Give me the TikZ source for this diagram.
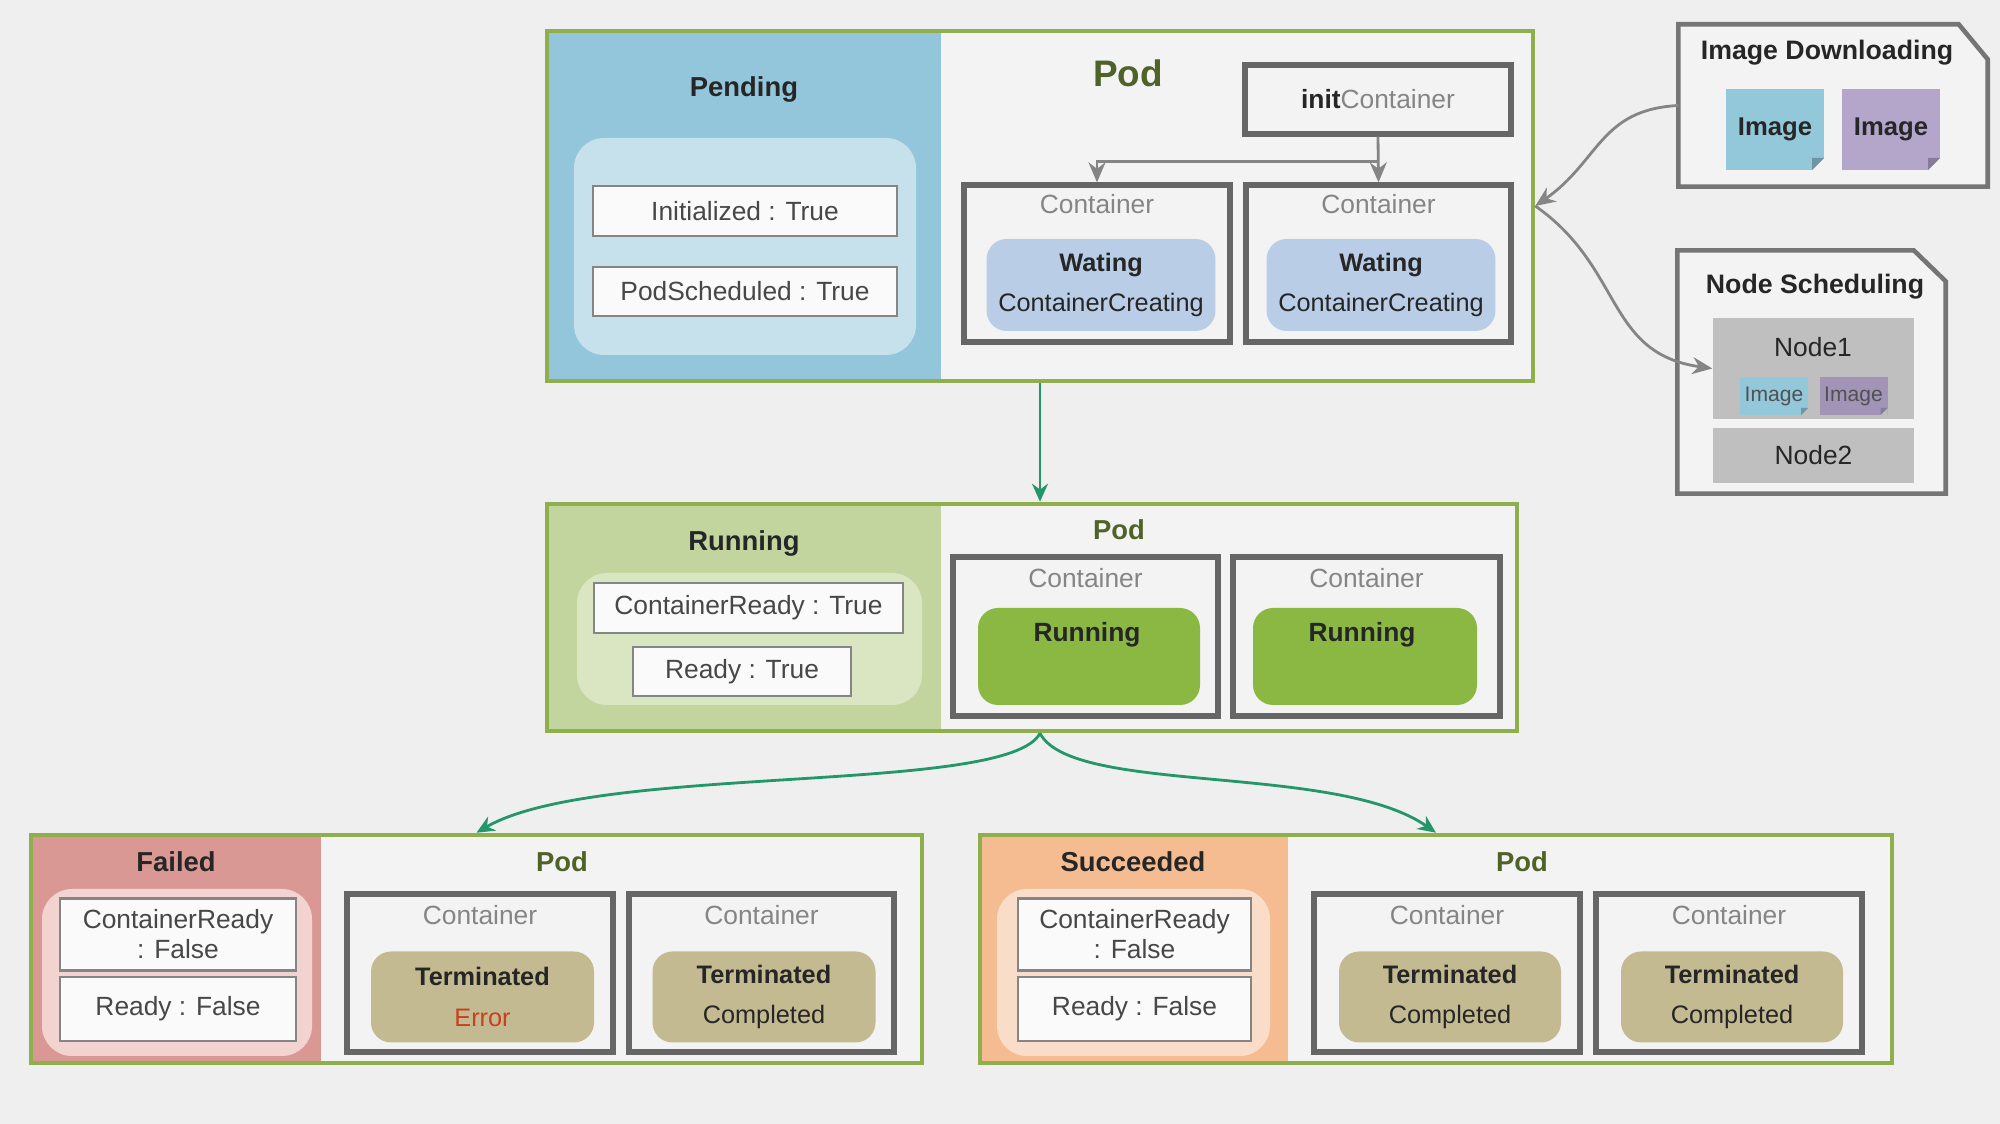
\documentclass[tikz,border=0pt]{standalone}
\usepackage{fontspec}
\setmainfont{Liberation Sans}
\usetikzlibrary{arrows.meta}

\definecolor{bggray}{HTML}{EFEFEF}
\definecolor{podbg}{HTML}{F3F3F3}
\definecolor{framegreen}{HTML}{8FAE4C}
\definecolor{podolive}{HTML}{4F6228}
\definecolor{pendblue}{HTML}{93C6DA}
\definecolor{pendlight}{HTML}{C6E1EB}
\definecolor{waitblue}{HTML}{B9CDE6}
\definecolor{rungreen}{HTML}{C3D59E}
\definecolor{runlight}{HTML}{DAE5C2}
\definecolor{runfill}{HTML}{8AB843}
\definecolor{failred}{HTML}{DA9894}
\definecolor{faillight}{HTML}{F3D3D0}
\definecolor{succorange}{HTML}{F6BC91}
\definecolor{succlight}{HTML}{FADDC8}
\definecolor{termtan}{HTML}{C4BA91}
\definecolor{imgblue}{HTML}{93C7DA}
\definecolor{imgpurple}{HTML}{B4A5CB}
\definecolor{nodegray}{HTML}{BFBFBF}
\definecolor{boxgray}{HTML}{666666}
\definecolor{linegray}{HTML}{858585}
\definecolor{flowgreen}{HTML}{23976A}
\definecolor{errred}{HTML}{C8401E}
\definecolor{textdark}{HTML}{262626}

\begin{document}
\begin{tikzpicture}[x=1cm, y=-1cm, font=\fontsize{7.5}{9}\selectfont, text=textdark,
    phaseframe/.style={draw=framegreen, line width=1.3pt},
    phase/.style={font=\fontsize{7.8}{9}\selectfont\bfseries},
    podlbl/.style={font=\fontsize{7.8}{9}\selectfont\bfseries, text=podolive},
    condpanel/.style={rounded corners=0.3cm},
    cond/.style={draw=linegray, line width=0.8pt, fill=white!60!podbg, align=center, text=textdark!85, font=\fontsize{7.5}{8.5}\selectfont},
    container/.style={draw=boxgray, line width=1.5pt},
    ctitle/.style={text=linegray},
    cstate/.style={rounded corners=0.2cm, align=center, font=\fontsize{7.2}{11.5}\selectfont},
    notebox/.style={draw=boxgray!90, line width=1.3pt, fill=podbg},
    imgnote/.style={outer sep=0pt, font=\fontsize{7.3}{9}\selectfont\bfseries},
    flow/.style={draw=flowgreen, line width=0.8pt, -{Stealth[length=0.18cm,width=0.16cm]}},
    link/.style={draw=linegray, line width=0.8pt, -{Stealth[length=0.2cm,width=0.17cm]}}]

    \fill[bggray] (0,0) rectangle (20,11.24);
    \useasboundingbox (0,0) rectangle (20,11.24);

    % Pending
    \fill[podbg] (5.47,0.31) rectangle (15.33,3.81);
    \fill[pendblue] (5.47,0.31) rectangle (9.41,3.81);
    \node[phaseframe, minimum width=9.86cm, minimum height=3.50cm] (pendframe) at (10.40,2.06) {};
    \node[phase] (pendlbl) at (7.44,0.89) {Pending};
    \node[condpanel, fill=pendlight, minimum width=3.42cm, minimum height=2.17cm] (pendcond) at (7.45,2.465) {};
    \node[cond, minimum width=3.04cm, minimum height=0.50cm] (initok) at (7.45,2.11) {Initialized : True};
    \node[cond, minimum width=3.04cm, minimum height=0.49cm] (schedok) at (7.45,2.915) {PodScheduled : True};
    \node[podlbl, font=\fontsize{10.5}{12}\selectfont\bfseries] (pendpod) at (11.28,0.73) {Pod};
    \node[container, minimum width=2.66cm, minimum height=0.69cm] (initc) at (13.78,0.995) {\textbf{init}\textcolor{linegray}{Container}};
    \node[container, minimum width=2.66cm, minimum height=1.57cm] (pendc1) at (10.97,2.635) {};
    \node[container, minimum width=2.65cm, minimum height=1.57cm] (pendc2) at (13.785,2.635) {};
    \node[ctitle] (pendt1) at (10.97,2.04) {Container};
    \node[ctitle] (pendt2) at (13.785,2.04) {Container};
    \node[cstate, fill=waitblue, minimum width=2.22cm, minimum height=0.92cm] (wait1) at (11.01,2.85) {\textbf{Wating}\\ContainerCreating};
    \node[cstate, fill=waitblue, minimum width=2.22cm, minimum height=0.92cm] (wait2) at (13.81,2.85) {\textbf{Wating}\\ContainerCreating};

    % Image Downloading
    \node[minimum width=3.08cm, minimum height=1.61cm] (imgdl) at (18.33,1.055) {};
    \draw[notebox] (imgdl.south west) -- (imgdl.north west) -- ([xshift=-0.29cm]imgdl.north east)
        -- ([yshift=-0.35cm]imgdl.north east) -- (imgdl.south east) -- cycle;
    \node[phase, font=\fontsize{7.6}{9}\selectfont\bfseries] (imgdllbl) at (18.27,0.53) {Image Downloading};
    \node[imgnote, fill=imgblue, minimum width=0.98cm, minimum height=0.81cm] (img1) at (17.75,1.295) {Image};
    \node[imgnote, fill=imgpurple, minimum width=0.98cm, minimum height=0.81cm] (img2) at (18.91,1.295) {Image};

    % Node Scheduling
    \node[minimum width=2.67cm, minimum height=2.42cm] (nsched) at (18.115,3.72) {};
    \draw[notebox] (nsched.south west) -- (nsched.north west) -- ([xshift=-0.32cm]nsched.north east)
        -- ([yshift=-0.31cm]nsched.north east) -- (nsched.south east) -- cycle;
    \node[phase, font=\fontsize{7.6}{9}\selectfont\bfseries] (nschedlbl) at (18.15,2.87) {Node Scheduling};
    \node[fill=nodegray, minimum width=2.01cm, minimum height=1.01cm] (node1) at (18.135,3.685) {};
    \node (node1lbl) at (18.13,3.47) {Node1};
    \node[imgnote, inner sep=0.5pt, fill=imgblue, minimum width=0.68cm, minimum height=0.38cm, font=\fontsize{6}{7}\selectfont, text=textdark!80] (nimg1) at (17.74,3.96) {Image};
    \node[imgnote, inner sep=0.5pt, fill=imgpurple!90!black, minimum width=0.68cm, minimum height=0.38cm, font=\fontsize{6}{7}\selectfont, text=textdark!80] (nimg2) at (18.535,3.96) {Image};
    \node[fill=nodegray, minimum width=2.01cm, minimum height=0.55cm] (node2) at (18.135,4.555) {Node2};

    % folded corners
    \foreach \n/\c/\b/\s in {img1/imgblue/podbg/0.12, img2/imgpurple/podbg/0.12, nimg1/imgblue/nodegray/0.07, nimg2/imgpurple/nodegray/0.07} {
        \fill[\b] ([shift={(-\s,0)}]\n.south east) -- (\n.south east) -- ([shift={(0,-\s)}]\n.south east) -- cycle;
        \fill[\c!75!black] ([shift={(-\s,0)}]\n.south east) -- ([shift={(0,-\s)}]\n.south east) -- ([shift={(-\s,-\s)}]\n.south east) -- cycle;
    }

    % Running
    \fill[podbg] (5.47,5.04) rectangle (15.17,7.31);
    \fill[rungreen] (5.47,5.04) rectangle (9.41,7.31);
    \node[phaseframe, minimum width=9.70cm, minimum height=2.27cm] (runframe) at (10.32,6.175) {};
    \node[phase] (runlbl) at (7.44,5.43) {Running};
    \node[condpanel, fill=runlight, minimum width=3.45cm, minimum height=1.32cm] (runcond) at (7.495,6.39) {};
    \node[cond, minimum width=3.09cm, minimum height=0.50cm] (runcr) at (7.485,6.08) {ContainerReady : True};
    \node[cond, minimum width=2.18cm, minimum height=0.49cm] (runready) at (7.42,6.715) {Ready : True};
    \node[podlbl] (runpod) at (11.19,5.30) {Pod};
    \node[container, minimum width=2.65cm, minimum height=1.59cm] (runc1) at (10.855,6.365) {};
    \node[container, minimum width=2.67cm, minimum height=1.59cm] (runc2) at (13.665,6.365) {};
    \node[ctitle] (runt1) at (10.855,5.78) {Container};
    \node[ctitle] (runt2) at (13.665,5.78) {Container};
    \node[cstate, fill=runfill, minimum width=2.22cm, minimum height=0.97cm] (runs1) at (10.89,6.565) {};
    \node[cstate, fill=runfill, minimum width=2.24cm, minimum height=0.97cm] (runs2) at (13.65,6.565) {};
    \node[font=\fontsize{7.5}{9}\selectfont\bfseries] (runs1lbl) at (10.87,6.35) {Running};
    \node[font=\fontsize{7.5}{9}\selectfont\bfseries] (runs2lbl) at (13.62,6.35) {Running};

    % Failed
    \fill[podbg] (0.31,8.35) rectangle (9.22,10.63);
    \fill[failred] (0.31,8.35) rectangle (3.21,10.63);
    \node[phaseframe, minimum width=8.91cm, minimum height=2.28cm] (failframe) at (4.765,9.49) {};
    \node[phase] (faillbl) at (1.76,8.62) {Failed};
    \node[condpanel, fill=faillight, minimum width=2.70cm, minimum height=1.67cm] (failcond) at (1.77,9.725) {};
    \node[cond, minimum width=2.36cm, minimum height=0.67cm] (failcr) at (1.78,9.345) {ContainerReady\\: False};
    \node[cond, minimum width=2.36cm, minimum height=0.64cm] (failready) at (1.78,10.09) {Ready : False};
    \node[podlbl] (failpod) at (5.62,8.62) {Pod};
    \node[container, minimum width=2.66cm, minimum height=1.58cm] (failc1) at (4.80,9.73) {};
    \node[container, minimum width=2.65cm, minimum height=1.58cm] (failc2) at (7.615,9.73) {};
    \node[ctitle] (failt1) at (4.80,9.15) {Container};
    \node[ctitle] (failt2) at (7.615,9.15) {Container};
    \node[cstate, fill=termtan, minimum width=2.23cm, minimum height=0.91cm] (fails1) at (4.825,9.97) {\textbf{Terminated}\\\textcolor{errred}{Error}};
    \node[cstate, fill=termtan, minimum width=2.23cm, minimum height=0.91cm] (fails2) at (7.64,9.97) {\textbf{Terminated}\\Completed};

    % Succeeded
    \fill[podbg] (9.80,8.35) rectangle (18.92,10.63);
    \fill[succorange] (9.80,8.35) rectangle (12.88,10.63);
    \node[phaseframe, minimum width=9.12cm, minimum height=2.28cm] (succframe) at (14.36,9.49) {};
    \node[phase] (succlbl) at (11.33,8.62) {Succeeded};
    \node[condpanel, fill=succlight, minimum width=2.73cm, minimum height=1.67cm] (succcond) at (11.335,9.725) {};
    \node[cond, minimum width=2.33cm, minimum height=0.67cm] (succcr) at (11.345,9.345) {ContainerReady\\: False};
    \node[cond, minimum width=2.33cm, minimum height=0.64cm] (succready) at (11.345,10.09) {Ready : False};
    \node[podlbl] (succpod) at (15.22,8.62) {Pod};
    \node[container, minimum width=2.66cm, minimum height=1.58cm] (succc1) at (14.47,9.73) {};
    \node[container, minimum width=2.66cm, minimum height=1.58cm] (succc2) at (17.29,9.73) {};
    \node[ctitle] (succt1) at (14.47,9.15) {Container};
    \node[ctitle] (succt2) at (17.29,9.15) {Container};
    \node[cstate, fill=termtan, minimum width=2.22cm, minimum height=0.91cm] (succs1) at (14.50,9.97) {\textbf{Terminated}\\Completed};
    \node[cstate, fill=termtan, minimum width=2.22cm, minimum height=0.91cm] (succs2) at (17.32,9.97) {\textbf{Terminated}\\Completed};

    % Arrows
    \draw[link] (initc.south) -- ++(0,0.25) -| (pendc1.north);
    \draw[link] (initc.south) -- (pendc2.north);
    \draw[link] (imgdl.west) to[out=183, in=35, looseness=1.15] (pendframe.east);
    \draw[link] (pendframe.east) to[out=325, in=172, looseness=1.15] (node1.west);
    \draw[flow] (pendframe.south) -- (pendframe.south |- runframe.north);
    \coordinate (split) at (pendframe.south |- runframe.south);
    \draw[flow] (split) .. controls +(-0.32,0.62) and +(1.2,-0.70) .. (failframe.north);
    \draw[flow] (split) .. controls +(0.32,0.62) and +(-1.0,-0.70) .. (succframe.north);
\end{tikzpicture}
\end{document}
